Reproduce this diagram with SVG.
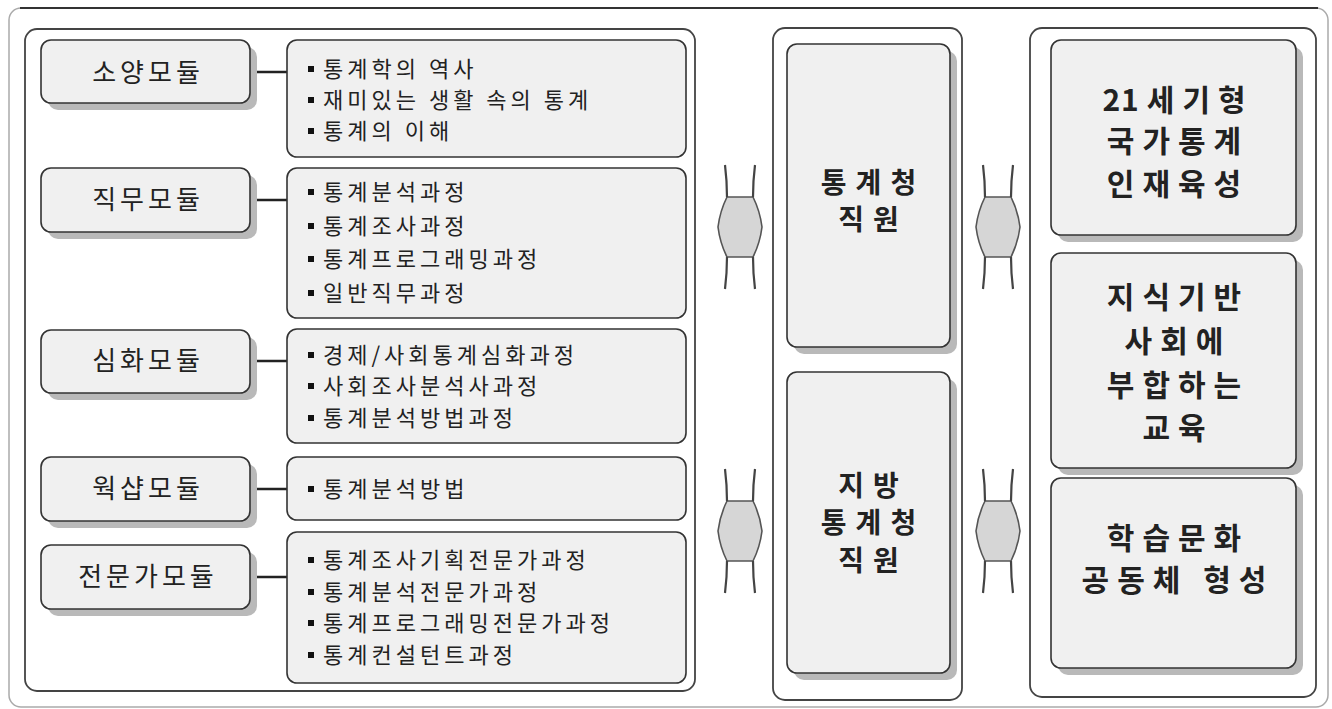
<svg xmlns="http://www.w3.org/2000/svg" xmlns:xlink="http://www.w3.org/1999/xlink" width="1332" height="709" viewBox="0 0 1332 709">
<style>
text{font-family:"Noto Sans CJK KR","Noto Sans",sans-serif;fill:#222}
.frame{fill:none;stroke:#444;stroke-width:1.8}
.box{fill:#f0f0f0;stroke:#333;stroke-width:1.6}
.shadow{fill:#b9b9b9}
.mod{font-size:26px;text-anchor:middle;letter-spacing:4px}
.item{font-size:22px;letter-spacing:4px}
.mid{font-size:28px;font-weight:bold;text-anchor:middle;letter-spacing:9px}
.big{font-size:30px;font-weight:bold;text-anchor:middle;letter-spacing:8px}
.conn{stroke:#222;stroke-width:2.5}
.bul{fill:#111}
.arrbody{fill:#d6d6d6;stroke:#555;stroke-width:1.6}
.prong{fill:none;stroke:#444;stroke-width:2.2}
</style>
<defs>
<g id="dbl">
<path class="arrbody" d="M-13,-30 L13,-30 Q20,-16 22,0 Q20,16 13,30 L-13,30 Q-20,16 -22,0 Q-20,-16 -13,-30 Z"/>
<path class="prong" d="M-13,-30 Q-13,-46 -15,-62 M13,-30 Q13,-46 15,-62 M-13,30 Q-13,46 -15,62 M13,30 Q13,46 15,62"/>
</g>
</defs>
<rect width="1332" height="709" fill="#fff"/>
<g id="outer">
<rect x="9" y="8" width="1319" height="699" rx="12" fill="none" stroke="#aaa" stroke-width="1.5"/>
<line x1="20" y1="8" x2="1318" y2="8" stroke="#333" stroke-width="2.2"/>
</g>
<g id="containers">
<rect class="frame" x="25" y="29" width="670" height="662" rx="12"/>
<rect class="frame" x="773" y="28" width="189" height="672" rx="12"/>
<rect class="frame" x="1030" y="28" width="286" height="669" rx="12"/>
</g>
<g id="connectors">
<line class="conn" x1="250" y1="72" x2="287" y2="72"/>
<line class="conn" x1="250" y1="200" x2="287" y2="200"/>
<line class="conn" x1="250" y1="361" x2="287" y2="361"/>
<line class="conn" x1="250" y1="489" x2="287" y2="489"/>
<line class="conn" x1="250" y1="577" x2="287" y2="577"/>
<use xlink:href="#dbl" transform="translate(740,227)"/>
<use xlink:href="#dbl" transform="translate(740,531)"/>
<use xlink:href="#dbl" transform="translate(998,227)"/>
<use xlink:href="#dbl" transform="translate(998,531)"/>
</g>
<g id="mod1">
<rect class="shadow" x="48" y="47" width="209" height="63" rx="10"/>
<rect class="box" x="41" y="40" width="209" height="63" rx="10"/>
<text class="mod" x="148" y="82">소양모듈</text>
</g>
<g id="items1">
<rect class="box" x="287" y="40" width="399" height="117" rx="10"/>
<rect class="bul" x="308" y="66" width="6" height="6"/><text class="item" x="323" y="77">통계학의 역사</text>
<rect class="bul" x="308" y="97" width="6" height="6"/><text class="item" x="323" y="108">재미있는 생활 속의 통계</text>
<rect class="bul" x="308" y="128" width="6" height="6"/><text class="item" x="323" y="139">통계의 이해</text>
</g>
<g id="mod2">
<rect class="shadow" x="48" y="175" width="209" height="64" rx="10"/>
<rect class="box" x="41" y="168" width="209" height="64" rx="10"/>
<text class="mod" x="148" y="209">직무모듈</text>
</g>
<g id="items2">
<rect class="box" x="287" y="168" width="399" height="150" rx="10"/>
<rect class="bul" x="308" y="189" width="6" height="6"/><text class="item" x="323" y="200">통계분석과정</text>
<rect class="bul" x="308" y="223" width="6" height="6"/><text class="item" x="323" y="234">통계조사과정</text>
<rect class="bul" x="308" y="256" width="6" height="6"/><text class="item" x="323" y="267">통계프로그래밍과정</text>
<rect class="bul" x="308" y="290" width="6" height="6"/><text class="item" x="323" y="301">일반직무과정</text>
</g>
<g id="mod3">
<rect class="shadow" x="48" y="337" width="209" height="63" rx="10"/>
<rect class="box" x="41" y="330" width="209" height="63" rx="10"/>
<text class="mod" x="148" y="370">심화모듈</text>
</g>
<g id="items3">
<rect class="box" x="287" y="329" width="399" height="114" rx="10"/>
<rect class="bul" x="308" y="352" width="6" height="6"/><text class="item" x="323" y="363">경제/사회통계심화과정</text>
<rect class="bul" x="308" y="383" width="6" height="6"/><text class="item" x="323" y="394">사회조사분석사과정</text>
<rect class="bul" x="308" y="415" width="6" height="6"/><text class="item" x="323" y="426">통계분석방법과정</text>
</g>
<g id="mod4">
<rect class="shadow" x="48" y="464" width="209" height="64" rx="10"/>
<rect class="box" x="41" y="457" width="209" height="64" rx="10"/>
<text class="mod" x="148" y="498">웍샵모듈</text>
</g>
<g id="items4">
<rect class="box" x="287" y="457" width="399" height="63" rx="10"/>
<rect class="bul" x="308" y="486" width="6" height="6"/><text class="item" x="323" y="497">통계분석방법</text>
</g>
<g id="mod5">
<rect class="shadow" x="48" y="552" width="209" height="64" rx="10"/>
<rect class="box" x="41" y="545" width="209" height="64" rx="10"/>
<text class="mod" x="148" y="586">전문가모듈</text>
</g>
<g id="items5">
<rect class="box" x="287" y="532" width="399" height="151" rx="10"/>
<rect class="bul" x="308" y="557" width="6" height="6"/><text class="item" x="323" y="568">통계조사기획전문가과정</text>
<rect class="bul" x="308" y="589" width="6" height="6"/><text class="item" x="323" y="600">통계분석전문가과정</text>
<rect class="bul" x="308" y="620" width="6" height="6"/><text class="item" x="323" y="631">통계프로그래밍전문가과정</text>
<rect class="bul" x="308" y="652" width="6" height="6"/><text class="item" x="323" y="663">통계컨설턴트과정</text>
</g>
<g id="center1">
<rect class="shadow" x="794" y="51" width="163" height="303" rx="10"/>
<rect class="box" x="787" y="44" width="163" height="303" rx="10"/>
<text class="mid" x="873" y="193">통계청</text>
<text class="mid" x="873" y="230">직원</text>
</g>
<g id="center2">
<rect class="shadow" x="794" y="379" width="163" height="301" rx="10"/>
<rect class="box" x="787" y="372" width="163" height="301" rx="10"/>
<text class="mid" x="873" y="496">지방</text>
<text class="mid" x="873" y="533">통계청</text>
<text class="mid" x="873" y="571">직원</text>
</g>
<g id="goal1">
<rect class="shadow" x="1058" y="47" width="245" height="195" rx="10"/>
<rect class="box" x="1051" y="40" width="245" height="195" rx="10"/>
<text class="big" x="1178" y="111"><tspan letter-spacing="1">2</tspan>1세기형</text>
<text class="big" x="1178" y="152">국가통계</text>
<text class="big" x="1178" y="195">인재육성</text>
</g>
<g id="goal2">
<rect class="shadow" x="1058" y="260" width="245" height="215" rx="10"/>
<rect class="box" x="1051" y="253" width="245" height="215" rx="10"/>
<text class="big" x="1178" y="308">지식기반</text>
<text class="big" x="1178" y="352">사회에</text>
<text class="big" x="1178" y="396">부합하는</text>
<text class="big" x="1178" y="439">교육</text>
</g>
<g id="goal3">
<rect class="shadow" x="1058" y="485" width="245" height="190" rx="10"/>
<rect class="box" x="1051" y="478" width="245" height="190" rx="10"/>
<text class="big" x="1178" y="549">학습문화</text>
<text class="big" x="1178" y="591">공동체 형성</text>
</g>
</svg>
